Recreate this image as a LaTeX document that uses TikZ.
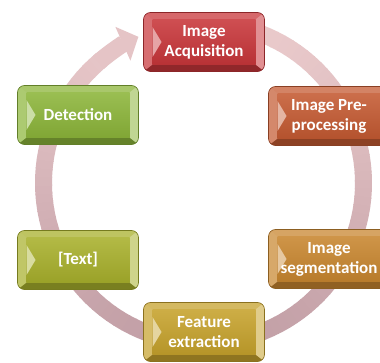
\documentclass[tikz,border=0pt]{standalone}
\usepackage{fontspec}
\setmainfont{Carlito}
\usetikzlibrary{arrows.meta}
\definecolor{cAcq}{HTML}{C8363A}
\definecolor{cPre}{HTML}{C45A32}
\definecolor{cSeg}{HTML}{C8862F}
\definecolor{cFeat}{HTML}{C6A22C}
\definecolor{cTxt}{HTML}{A8B02C}
\definecolor{cDet}{HTML}{8CB53A}
\definecolor{ringtop}{HTML}{EBCBCC}
\definecolor{ringbot}{HTML}{C29FA6}
\tikzset{
  gbox/.style={rounded corners=7pt, minimum width=121pt, minimum height=59pt,
    inner sep=2pt, align=center, text=white,
    font=\bfseries\fontsize{17}{20}\selectfont,
    draw=#1!70!black, line width=0.6pt,
    top color=#1!65!white, bottom color=#1!80!black,
    path picture={
      \path (path picture bounding box.north west) coordinate (nw)
            (path picture bounding box.north east) coordinate (ne)
            (path picture bounding box.south west) coordinate (sw)
            (path picture bounding box.south east) coordinate (se)
            (path picture bounding box.west) coordinate (w);
      \fill[sharp corners,#1!75!white] (nw) -- (ne) -- ([shift={(-9pt,-7pt)}]ne) -- ([shift={(9pt,-7pt)}]nw) -- cycle;
      \fill[sharp corners,#1!72!black] (sw) -- (se) -- ([shift={(-9pt,7pt)}]se) -- ([shift={(9pt,7pt)}]sw) -- cycle;
      \fill[sharp corners,#1!72!white] (nw) -- ([shift={(9pt,-7pt)}]nw) -- ([shift={(9pt,7pt)}]sw) -- (sw) -- cycle;
      \fill[sharp corners,#1!55!white] (ne) -- ([shift={(-9pt,-7pt)}]ne) -- ([shift={(-9pt,7pt)}]se) -- (se) -- cycle;
      \shade[sharp corners,top color=#1!88!white, bottom color=#1!92!black] ([shift={(9pt,-7pt)}]nw) rectangle ([shift={(-9pt,7pt)}]se);
      \fill[sharp corners,#1!45!white] ([shift={(9pt,15pt)}]w) -- ([shift={(18pt,0pt)}]w) -- ([shift={(9pt,-15pt)}]w) -- cycle;
    }},
  ringseg/.style={line width=17pt}
}
\begin{document}
\begin{tikzpicture}[x=1pt,y=1pt]
\clip (0,0) rectangle (380,-363);
\fill[white] (0,0) rectangle (380,-363);
\coordinate (c) at (203.5,-183);
\foreach \a in {88,85,...,-227}{
  \pgfmathsetmacro\p{50+50*sin(\a)}
  \draw[ringseg, color=ringtop!\p!ringbot] ([shift={(\a:160pt)}]c) arc[start angle=\a, end angle=\a-3.4, radius=160pt];
}
\draw[ringseg, color=ringtop!85!ringbot, -{Triangle[width=36pt,length=17pt]}] ([shift={(-229:160pt)}]c) arc[start angle=-229, end angle=-246, radius=160pt];
\node[gbox=cAcq] (acq) at (204,-42) {Image\\Acquisition};
\node[gbox=cPre] (pre) at (329,-116) {Image Pre-\\processing};
\node[gbox=cSeg] (seg) at (329,-259) {Image\\segmentation};
\node[gbox=cFeat] (feat) at (204,-332) {Feature\\extraction};
\node[gbox=cTxt] (txt) at (78,-260) {[Text]};
\node[gbox=cDet] (det) at (78,-115) {Detection};
\end{tikzpicture}
\end{document}
